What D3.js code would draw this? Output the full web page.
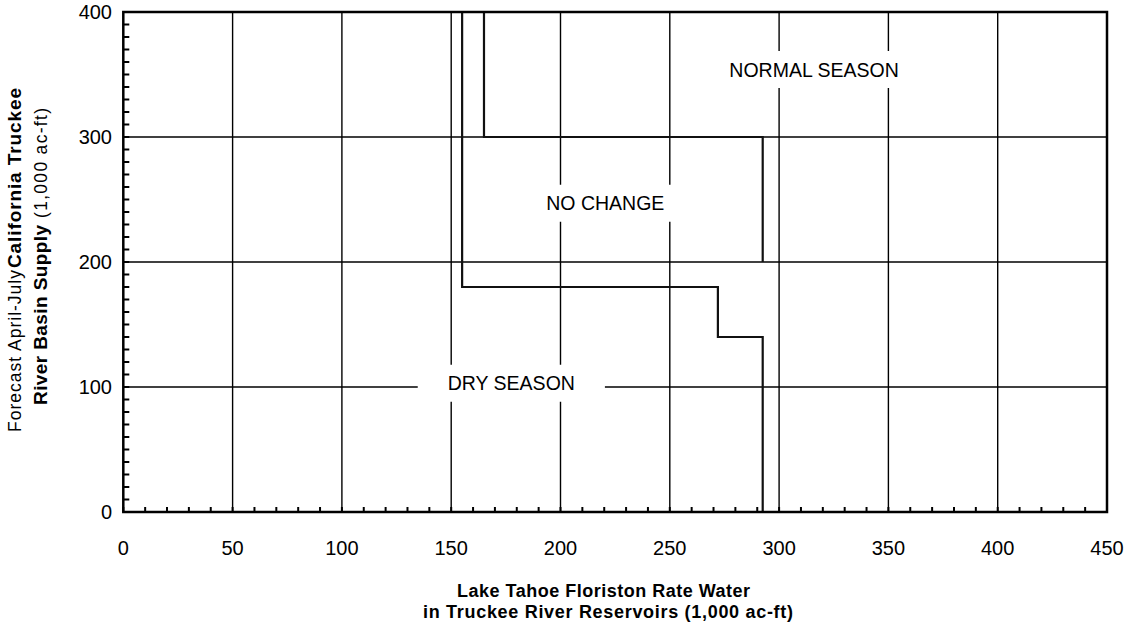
<!DOCTYPE html>
<html>
<head>
<meta charset="utf-8">
<script src="https://cdn.jsdelivr.net/npm/d3@7"></script>
<style>
  html, body { margin: 0; padding: 0; background: #fff; }
  svg { display: block; }
  text { font-family: "Liberation Sans", Arial, sans-serif; fill: #000; }
</style>
</head>
<body>
<svg id="chart" width="1134" height="624"></svg>
<script>
// ---- data ----
const xTicks = [0, 50, 100, 150, 200, 250, 300, 350, 400, 450];
const yTicks = [0, 100, 200, 300, 400];
const xMinor = d3.range(0, 451, 10);
const yMinor = d3.range(0, 401, 10);
// boundary A (dry season boundary)
const boundaryAX = [155, 155, 272, 272, 292.5, 292.5];
const boundaryAY = [400, 180, 180, 140, 140, 0];
// boundary B (normal season boundary)
const boundaryBX = [165, 165, 292.5, 292.5];
const boundaryBY = [400, 300, 300, 200];
const labelText = ["NORMAL SEASON", "NO CHANGE", "DRY SEASON"];
const labelX = [316, 220.5, 177.5];
const labelY = [354, 247, 103];

// ---- layout ----
const svg = d3.select("#chart");
const L = 123.3, R = 1107, T = 12, B = 512;
const x = d3.scaleLinear().domain([0, 450]).range([L, R]);
const y = d3.scaleLinear().domain([0, 400]).range([B, T]);

// gridlines
svg.append("g").selectAll("line").data(xTicks.slice(1, -1)).join("line")
  .attr("x1", d => x(d)).attr("x2", d => x(d)).attr("y1", T).attr("y2", B)
  .attr("stroke", "#000").attr("stroke-width", 1.4);
svg.append("g").selectAll("line").data(yTicks.slice(1, -1)).join("line")
  .attr("y1", d => y(d)).attr("y2", d => y(d)).attr("x1", L).attr("x2", R)
  .attr("stroke", "#000").attr("stroke-width", 1.4);

// boundaries
const line = d3.line().x(d => x(d[0])).y(d => y(d[1]));
const pathA = boundaryAX.map((v, i) => [v, boundaryAY[i]]);
const pathB = boundaryBX.map((v, i) => [v, boundaryBY[i]]);
[pathA, pathB].forEach(p => {
  svg.append("path").attr("d", line(p)).attr("fill", "none")
    .attr("stroke", "#111").attr("stroke-width", 2.2);
});

// labels with white boxes
labelText.forEach((t, i) => {
  const g = svg.append("g");
  const txt = g.append("text").attr("x", x(labelX[i])).attr("y", y(labelY[i]))
    .attr("text-anchor", "middle").attr("dominant-baseline", "central")
    .style("font-size", "19.5px").text(t);
  const bb = txt.node().getBBox();
  g.insert("rect", "text").attr("x", bb.x - 30).attr("width", bb.width + 60)
    .attr("y", y(labelY[i]) - 18.5).attr("height", 37).attr("fill", "#fff");
});

// frame
svg.append("rect").attr("x", L).attr("y", T).attr("width", R - L).attr("height", B - T)
  .attr("fill", "none").attr("stroke", "#000").attr("stroke-width", 2.5);

// minor ticks (inward)
svg.append("g").selectAll("line").data(xMinor).join("line")
  .attr("x1", d => x(d)).attr("x2", d => x(d)).attr("y1", B).attr("y2", B - 5)
  .attr("stroke", "#000").attr("stroke-width", 2);
svg.append("g").selectAll("line").data(yMinor).join("line")
  .attr("y1", d => y(d)).attr("y2", d => y(d)).attr("x1", L).attr("x2", L + 6)
  .attr("stroke", "#000").attr("stroke-width", 2);

// tick labels
svg.append("g").selectAll("text").data(xTicks).join("text")
  .attr("x", d => x(d)).attr("y", 548).attr("text-anchor", "middle")
  .attr("dominant-baseline", "central").style("font-size", "20px").text(d => d);
svg.append("g").selectAll("text").data(yTicks).join("text")
  .attr("x", 112).attr("y", d => y(d)).attr("text-anchor", "end")
  .attr("dominant-baseline", "central").style("font-size", "20px").text(d => d);

// x title
svg.append("text").attr("x", 603.5).attr("y", 597).attr("text-anchor", "middle")
  .style("font-size", "18px").style("font-weight", "bold")
  .attr("textLength", 293).attr("lengthAdjust", "spacing")
  .text("Lake Tahoe Floriston Rate Water");
svg.append("text").attr("x", 608).attr("y", 618).attr("text-anchor", "middle")
  .style("font-size", "18px").style("font-weight", "bold")
  .attr("textLength", 370).attr("lengthAdjust", "spacing")
  .text("in Truckee River Reservoirs  (1,000 ac-ft)");

// y title (rotated)
const yg = svg.append("g").attr("transform", "rotate(-90)");
const yParts = [
  { t: "Forecast April-July", s: 432, len: 162, b: 21, bold: false },
  { t: "California Truckee", s: 268, len: 180, b: 21, bold: true },
  { t: "River Basin Supply", s: 405, len: 180, b: 47, bold: true },
  { t: "(1,000 ac-ft)", s: 218, len: 110, b: 47, bold: false }
];
yParts.forEach(p => {
  yg.append("text").attr("x", -p.s).attr("y", p.b)
    .style("font-size", p.bold ? "19px" : "17.5px")
    .style("font-weight", p.bold ? "bold" : "normal")
    .attr("textLength", p.len).attr("lengthAdjust", "spacing").text(p.t);
});
</script>
</body>
</html>
